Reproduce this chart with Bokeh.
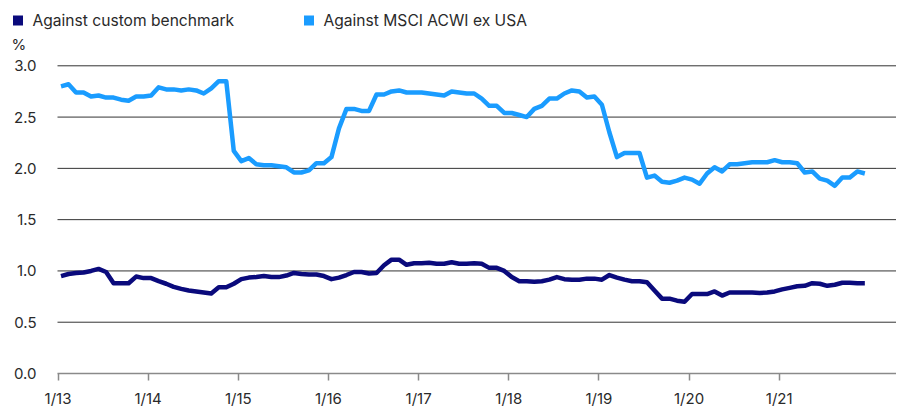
import pandas as pd
from bokeh.plotting import figure
from bokeh.models import (ColumnDataSource, Range1d, FixedTicker, PrintfTickFormatter)
from bokeh.core.properties import value
from bokeh.embed import file_html
from bokeh.resources import INLINE

# ---------------- data ----------------
months = pd.date_range("2013-01-01", periods=108, freq="MS")

custom_benchmark = [
    0.95, 0.97, 0.98, 0.985, 1.00, 1.02, 0.99, 0.88, 0.88, 0.88, 0.945, 0.93,
    0.93, 0.90, 0.875, 0.845, 0.825, 0.81, 0.80, 0.79, 0.78, 0.84, 0.84, 0.875,
    0.92, 0.935, 0.94, 0.95, 0.94, 0.94, 0.955, 0.98, 0.97, 0.965, 0.965, 0.95,
    0.92, 0.935, 0.96, 0.99, 0.99, 0.975, 0.98, 1.055, 1.11, 1.11, 1.06, 1.075,
    1.075, 1.08, 1.07, 1.07, 1.085, 1.07, 1.07, 1.075, 1.07, 1.03, 1.03, 1.00,
    0.94, 0.90, 0.90, 0.895, 0.90, 0.915, 0.94, 0.92, 0.915, 0.915, 0.925, 0.925,
    0.915, 0.96, 0.935, 0.915, 0.90, 0.90, 0.89, 0.81, 0.73, 0.73, 0.71, 0.70,
    0.775, 0.775, 0.775, 0.80, 0.76, 0.79, 0.79, 0.79, 0.79, 0.785, 0.79, 0.80,
    0.82, 0.835, 0.85, 0.855, 0.88, 0.875, 0.855, 0.865, 0.885, 0.885, 0.88, 0.88,
]

msci_acwi_ex_usa = [
    2.80, 2.82, 2.74, 2.74, 2.70, 2.71, 2.69, 2.69, 2.67, 2.66, 2.70, 2.70,
    2.71, 2.79, 2.77, 2.77, 2.76, 2.77, 2.76, 2.73, 2.78, 2.85, 2.85, 2.17,
    2.07, 2.10, 2.04, 2.03, 2.03, 2.02, 2.01, 1.96, 1.96, 1.98, 2.05, 2.05,
    2.11, 2.39, 2.58, 2.58, 2.56, 2.56, 2.72, 2.72, 2.75, 2.76, 2.74, 2.74,
    2.74, 2.73, 2.72, 2.71, 2.75, 2.74, 2.73, 2.73, 2.68, 2.61, 2.61, 2.54,
    2.54, 2.52, 2.50, 2.58, 2.61, 2.68, 2.68, 2.73, 2.76, 2.75, 2.69, 2.70,
    2.62, 2.35, 2.11, 2.15, 2.15, 2.15, 1.91, 1.93, 1.87, 1.86, 1.88, 1.91,
    1.89, 1.85, 1.95, 2.01, 1.97, 2.04, 2.04, 2.05, 2.06, 2.06, 2.06, 2.08,
    2.06, 2.06, 2.05, 1.96, 1.97, 1.90, 1.88, 1.83, 1.91, 1.91, 1.97, 1.95,
]

tick_years = [2013, 2014, 2015, 2016, 2017, 2018, 2019, 2020, 2021]
tick_labels = ["1/13", "1/14", "1/15", "1/16", "1/17", "1/18", "1/19", "1/20", "1/21"]
y_ticks = [0.0, 0.5, 1.0, 1.5, 2.0, 2.5, 3.0]

series_names = ["Against custom benchmark", "Against MSCI ACWI ex USA"]
unit_label = "%"

# ---------------- style / layout ----------------
NAVY = "#0a0a7c"
SKY = "#1a9cff"
TEXT = "#2a2a2a"
GRID = "#333333"
FONT = "Inter"
W, H = 896, 406
ZERO_PX = 373.0            # screen y of the 0.0 line
TOP_PX = 65.3              # screen y of the 3.0 line
PX_PER_UNIT = (ZERO_PX - TOP_PX) / 3.0
PX_PER_YEAR = 90.15
LEFT_PX = 57               # plotting area starts here
X0_PX = 57.5               # where 1/13 sits
x_start = 2013 - X0_PX / PX_PER_YEAR
x_end = 2013 + (W - X0_PX) / PX_PER_YEAR
x_area = 2013 - (X0_PX - LEFT_PX) / PX_PER_YEAR
y_start = -(H - ZERO_PX) / PX_PER_UNIT
y_end = ZERO_PX / PX_PER_UNIT

x = [d.year + (d.month - 1 + 0.4) / 12.0 for d in months]
src = ColumnDataSource(dict(x=x, custom=custom_benchmark, msci=msci_acwi_ex_usa))

p = figure(width=W, height=H, output_backend="svg", toolbar_location=None,
           x_range=Range1d(x_start, x_end), y_range=Range1d(y_start, y_end),
           min_border_left=0, min_border_right=0, min_border_top=0,
           min_border_bottom=0)
p.outline_line_color = None
p.background_fill_color = "white"
p.border_fill_color = "white"
p.xgrid.grid_line_color = None
p.ygrid.grid_line_color = None

# pixel-unit ranges for the header (legend, unit)
p.extra_x_ranges = {"px": Range1d(0, W)}
p.extra_y_ranges = {"px": Range1d(H, 0)}

# horizontal gridlines spanning the plotting area only
grid_vals = y_ticks[1:]
p.segment(x0=[x_area] * len(grid_vals), x1=[x_end] * len(grid_vals),
          y0=grid_vals, y1=grid_vals, line_color=GRID, line_width=1)

# y axis drawn at the left edge of the plotting area
p.yaxis.fixed_location = x_area
p.yaxis.ticker = FixedTicker(ticks=y_ticks)
p.yaxis.formatter = PrintfTickFormatter(format="%.1f")
p.yaxis.axis_line_color = None
p.yaxis.major_tick_line_color = None
p.yaxis.minor_tick_line_color = None
p.yaxis.major_tick_in = 0
p.yaxis.major_tick_out = 0
p.yaxis.major_label_standoff = 21
p.yaxis.major_label_text_font = FONT
p.yaxis.major_label_text_font_size = "15px"
p.yaxis.major_label_text_color = TEXT

# x axis drawn at the 0.0 line
p.xaxis.fixed_location = 0
p.xaxis.bounds = (x_area, x_end)
p.xaxis.ticker = FixedTicker(ticks=tick_years)
p.xaxis.major_label_overrides = {yr: lab for yr, lab in zip(tick_years, tick_labels)}
p.xaxis.axis_line_color = "#8a8a8a"
p.xaxis.axis_line_width = 1.5
p.xaxis.major_tick_line_color = "#8a8a8a"
p.xaxis.major_tick_line_width = 1.5
p.xaxis.minor_tick_line_color = None
p.xaxis.major_tick_in = 0
p.xaxis.major_tick_out = 7
p.xaxis.major_label_standoff = 8
p.xaxis.major_label_text_font = FONT
p.xaxis.major_label_text_font_size = "15px"
p.xaxis.major_label_text_color = TEXT

# data lines
p.line("x", "msci", source=src, line_color=SKY, line_width=4.5, line_join="round")
p.line("x", "custom", source=src, line_color=NAVY, line_width=4.5, line_join="round")

# header: legend swatches, legend labels, unit label (pixel coordinates)
legend_src = ColumnDataSource(dict(
    sx=[17.5, 308.5], sy=[20, 20], tx=[32, 323], label=series_names,
    color=[NAVY, SKY]))
p.rect(x="sx", y="sy", width=10, height=10, source=legend_src,
       fill_color="color", line_color=None, x_range_name="px", y_range_name="px")
p.text(x="tx", y="sy", text="label", source=legend_src,
       text_font=value(FONT), text_font_size="15.6px", text_color=TEXT,
       text_baseline="middle", text_align="left",
       x_range_name="px", y_range_name="px")
p.text(x=[11], y=[44], text=[unit_label], text_font=value(FONT),
       text_font_size="15px", text_color=TEXT, text_baseline="middle",
       text_align="left", x_range_name="px", y_range_name="px")

open("out.html", "w").write(file_html(p, INLINE))
